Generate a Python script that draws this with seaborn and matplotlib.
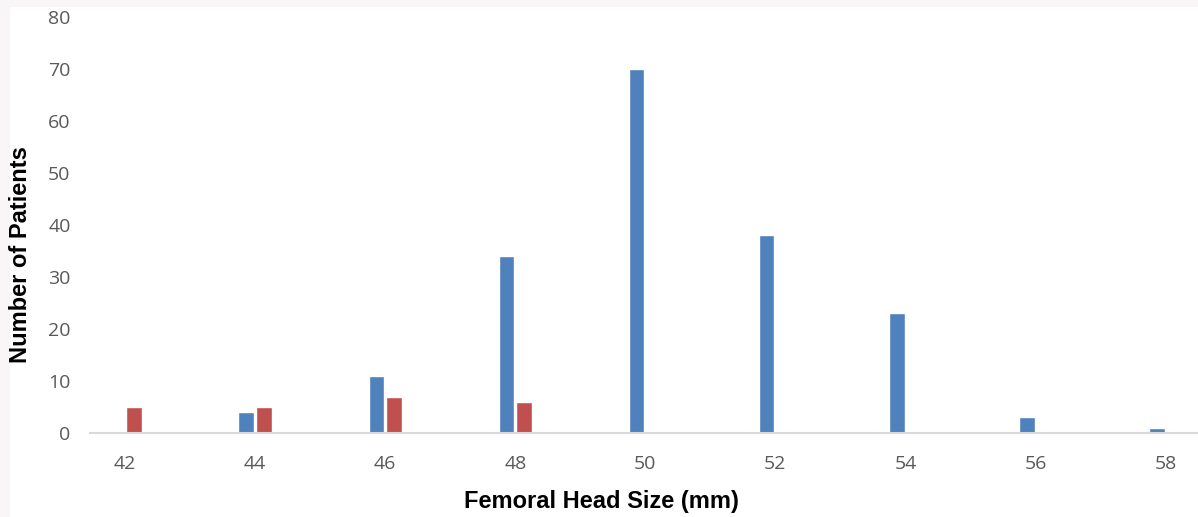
import pandas as pd
import matplotlib.pyplot as plt
import seaborn as sns
from matplotlib.patches import Rectangle

# values
head_sizes = ["42", "44", "46", "48", "50", "52", "54", "56", "58"]
blue_counts = [0, 4, 11, 34, 70, 38, 23, 3, 1]
red_counts = [5, 5, 7, 6, 0, 0, 0, 0, 0]
series_names = ["Series A", "Series B"]

df = pd.DataFrame({
    "size": head_sizes * 2,
    "count": blue_counts + red_counts,
    "series": [series_names[0]] * len(head_sizes) + [series_names[1]] * len(head_sizes),
})

sns.set_style("white")

fig = plt.figure(figsize=(11.98, 5.17), dpi=100)
fig.patch.set_facecolor("#f8f6f6")
# white chart panel inside the light frame
fig.add_artist(Rectangle((10 / 1198, 0.0), 1.0, 1 - 7 / 517,
                         transform=fig.transFigure, facecolor="white",
                         edgecolor="none", zorder=-10))

ax = fig.add_axes([90 / 1198, 84 / 517, 1 - 90 / 1198, (433 - 17) / 517])
ax.set_facecolor("none")
ax.set_zorder(5)

sns.barplot(data=df, x="size", y="count", hue="series",
            palette=["#4f81bd", "#c0504d"], saturation=1,
            width=0.27, gap=0.1, legend=False, ax=ax)

ax.set_ylim(0, 80)
ax.set_yticks(range(0, 81, 10))
ax.set_xlim(-0.27, 8.25)

for s in ["top", "right", "left"]:
    ax.spines[s].set_visible(False)
ax.spines["bottom"].set_color("#d9d9d9")
ax.spines["bottom"].set_linewidth(1.5)

ax.tick_params(axis="both", length=0, labelsize=14, labelcolor="#595959")
ax.tick_params(axis="x", pad=16)
ax.tick_params(axis="y", pad=14)
for lab in ax.get_xticklabels() + ax.get_yticklabels():
    lab.set_family("Open Sans")

ax.set_xlabel("Femoral Head Size (mm)", fontsize=17, fontweight="bold",
              family="Liberation Sans", color="black")
ax.set_ylabel("Number of Patients", fontsize=17, fontweight="bold",
              family="Liberation Sans", color="black")
ax.xaxis.set_label_coords(0.462, -0.137)
ax.yaxis.set_label_coords(-0.052, 0.43)

fig.savefig("out.png", dpi=100)
